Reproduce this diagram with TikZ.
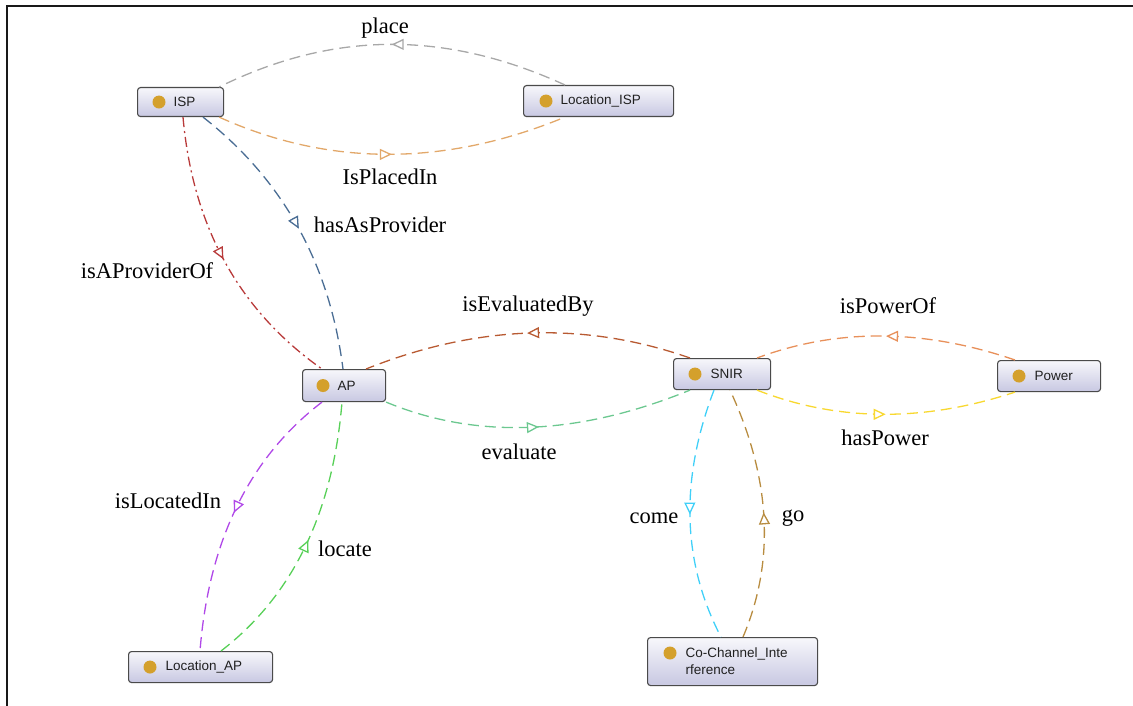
\documentclass[tikz,border=0pt]{standalone}
\usepackage{fontspec}
\setmainfont{Liberation Serif}
\newfontfamily\boxfont{Liberation Sans}
\usetikzlibrary{arrows.meta,decorations.markings,calc}

\definecolor{boxline}{HTML}{4A4A4A}
\definecolor{boxtop}{HTML}{F7F7FB}
\definecolor{boxbot}{HTML}{C8C8E2}
\definecolor{dotc}{HTML}{D4A02C}
\definecolor{boxtext}{HTML}{202020}
\definecolor{cPlace}{HTML}{A8A8A8}
\definecolor{cPlaced}{HTML}{E2A86A}
\definecolor{cHasProv}{HTML}{4A6D94}
\definecolor{cIsProv}{HTML}{B83A3A}
\definecolor{cEvalBy}{HTML}{B85A32}
\definecolor{cEval}{HTML}{6CC890}
\definecolor{cPowOf}{HTML}{E8905A}
\definecolor{cHasPow}{HTML}{F8D830}
\definecolor{cCome}{HTML}{40D0F8}
\definecolor{cGo}{HTML}{B88C40}
\definecolor{cLocIn}{HTML}{B048E8}
\definecolor{cLoc}{HTML}{58D058}

\tikzset{
  ent/.style={draw=boxline, line width=1.1pt, rounded corners=3pt,
    top color=boxtop, bottom color=boxbot, anchor=north west,
    inner xsep=0pt, inner ysep=1pt, align=left, text=boxtext,
    font=\boxfont\fontsize{13.5}{17}\selectfont},
  rel/.style={line width=1.3pt, dash pattern=on 11pt off 6pt,
    postaction={decorate},
    decoration={markings, mark=at position 0.5 with
      {\arrow{Triangle[open, length=12pt, width=11pt, fill=white]}}}},
  dashdotrel/.style={rel, dash pattern=on 10pt off 4pt on 2pt off 4pt},
  rlabel/.style={font=\fontsize{22.5}{26}\selectfont, inner sep=0pt, text=black},
  bullet/.style={fill=dotc}
}

\begin{document}
\begin{tikzpicture}[x=1pt, y=-1pt]
\useasboundingbox (0,0) rectangle (1133,706);

% frame
\draw[line width=2pt, color=black!90] (7,706) -- (7,6) -- (1133,6);

% individuals
\node[ent, text width=86, minimum height=29] (isp) at (137,87) {\hspace*{36pt}ISP};
\node[ent, text width=150, minimum height=31] (lisp) at (523,85) {\hspace*{37pt}Location\_ISP};
\node[ent, text width=83, minimum height=32] (ap) at (302,369) {\hspace*{35pt}AP};
\node[ent, text width=97, minimum height=31] (snir) at (673,358) {\hspace*{37pt}SNIR};
\node[ent, text width=103, minimum height=31] (power) at (997,360) {\hspace*{37pt}Power};
\node[ent, text width=144, minimum height=31] (lap) at (128,651) {\hspace*{37pt}Location\_AP};
\node[ent, text width=170, minimum height=48] (cci) at (647,637)
  {\hspace*{38pt}Co-Channel\_Inte\\\hspace*{38pt}rference};

% bullets
\fill[bullet] ($(isp.west)+(22,0)$) circle (6.5pt);
\fill[bullet] ($(lisp.west)+(23,0)$) circle (6.5pt);
\fill[bullet] ($(ap.west)+(21,0)$) circle (6.5pt);
\fill[bullet] ($(snir.west)+(22,0)$) circle (6.5pt);
\fill[bullet] ($(power.west)+(22,0)$) circle (6.5pt);
\fill[bullet] ($(lap.west)+(22,0)$) circle (6.5pt);
\fill[bullet] ($(cci.north west)+(23,16)$) circle (6.5pt);

% properties
\draw[rel, cPlace] ($(lisp.north west)+(42,0)$) .. controls (444.7,30) and (333,31) .. ($(isp.north east)+(-5,0)$);
\draw[rel, cPlaced] ($(isp.south east)+(-5,0)$) .. controls (329,166.7) and (444.7,166.7) .. ($(lisp.south west)+(42,0)$);
\draw[rel, cHasProv] ($(isp.south west)+(66,0)$) .. controls (283,179.7) and (329.7,264) .. ($(ap.north west)+(41,0)$);
\draw[dashdotrel, cIsProv] ($(isp.south west)+(46,0)$) .. controls (192.7,226.3) and (239,310.7) .. ($(ap.north west)+(20,0)$);
\draw[rel, cEvalBy] ($(snir.north west)+(17,0)$) .. controls (584.7,321) and (476.7,324.7) .. ($(ap.north west)+(64,0)$);
\draw[rel, cEval] (ap.south east) .. controls (476.7,439.7) and (578.3,435.7) .. ($(snir.south west)+(17,0)$);
\draw[rel, cPowOf] ($(power.north west)+(18,0)$) .. controls (923.7,328.7) and (837.7,328) .. ($(snir.north west)+(84,0)$);
\draw[rel, cHasPow] ($(snir.south west)+(84,0)$) .. controls (837.7,421.7) and (923.7,422.3) .. ($(power.south west)+(18,0)$);
\draw[rel, cCome] ($(snir.south west)+(41,0)$) .. controls (679.7,479.7) and (682,562.3) .. ($(cci.north west)+(74,0)$);
\draw[rel, cGo] ($(cci.north west)+(96,0)$) .. controls (775.3,561) and (771,478.3) .. ($(snir.south west)+(57,0)$);
\draw[rel, cLocIn] ($(ap.south west)+(20,0)$) .. controls (249.3,457.7) and (208.7,541) .. ($(lap.north west)+(72,0)$);
\draw[rel, cLoc] ($(lap.north west)+(93,0)$) .. controls (292.7,595.7) and (333,512.3) .. ($(ap.south west)+(40,0)$);

% property names
\node[rlabel] (tplace) at (385,28) {place};
\node[rlabel] (tplaced) at (390,177) {IsPlacedIn};
\node[rlabel] (thasprov) at (380,225) {hasAsProvider};
\node[rlabel] (tisprov) at (147,271) {isAProviderOf};
\node[rlabel] (tevalby) at (528,306) {isEvaluatedBy};
\node[rlabel] (teval) at (519,452) {evaluate};
\node[rlabel] (tpowof) at (888,306) {isPowerOf};
\node[rlabel] (thaspow) at (885,438) {hasPower};
\node[rlabel] (tcome) at (654,518) {come};
\node[rlabel] (tgo) at (793,518) {go};
\node[rlabel] (tlocin) at (168,501) {isLocatedIn};
\node[rlabel] (tloc) at (345,549) {locate};
\end{tikzpicture}
\end{document}
